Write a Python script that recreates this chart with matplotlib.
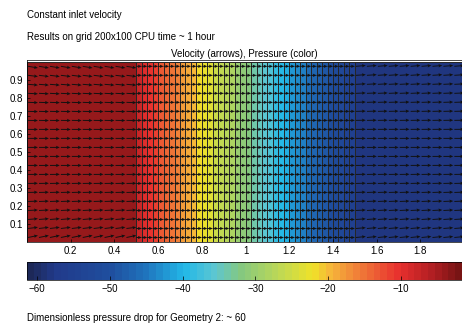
import numpy as np
import matplotlib.pyplot as plt
from matplotlib.colors import LinearSegmentedColormap

plt.rcParams['font.family'] = ['Liberation Sans', 'DejaVu Sans']
plt.rcParams['font.size'] = 7

# pressure per column: inlet block, 40 porous cells (dx = 0.025), outlet block
p_inlet = -4.0
p_porous = [-8.0, -9.2, -10.4, -11.6, -12.9, -14.1, -15.3, -16.5, -17.7, -18.9,
            -20.1, -21.4, -22.6, -23.8, -25.0, -26.2, -27.4, -28.6, -29.8, -31.1,
            -32.3, -33.5, -34.7, -35.9, -37.1, -38.3, -39.5, -40.8, -42.0, -43.2,
            -44.4, -45.6, -46.8, -48.0, -49.2, -50.5, -51.7, -52.9, -54.1, -55.3]
p_outlet = -58.0
p_min, p_max = -61.4, -1.6

# vertical velocity per row (20 rows, bottom to top) in the open channels
v_inlet = [0.25, 0.15, 0.10, 0.06, 0.04, 0.03, 0.02, 0.01, 0.0, 0.0,
           0.0, 0.0, -0.01, -0.02, -0.03, -0.04, -0.06, -0.10, -0.15, -0.20]
v_outlet = [0.12, 0.10, 0.08, 0.06, 0.05, 0.04, 0.03, 0.02, 0.01, 0.0,
            0.0, 0.0, 0.01, 0.02, 0.03, 0.04, 0.05, 0.06, 0.08, 0.10]

xticks = [0.2, 0.4, 0.6, 0.8, 1, 1.2, 1.4, 1.6, 1.8]
yticks = [0.1, 0.2, 0.3, 0.4, 0.5, 0.6, 0.7, 0.8, 0.9]
cticks = [-60, -50, -40, -30, -20, -10]

cmap = LinearSegmentedColormap.from_list('press', [
    (0.00, '#1d2858'), (0.06, '#213a8a'), (0.19, '#1f4f9f'),
    (0.27, '#1f74bd'), (0.36, '#22b8e8'), (0.43, '#5cc6d2'),
    (0.49, '#84c880'), (0.58, '#bcd856'), (0.66, '#f0e228'),
    (0.70, '#f6b63a'), (0.77, '#f07a38'), (0.86, '#e8302e'),
    (0.94, '#b01e22'), (1.00, '#781414')], N=64)

fig = plt.figure(figsize=(4.62, 3.24), dpi=100)
ax = fig.add_axes([27 / 462, 1 - 242 / 324, 435 / 462, 182 / 324])

xe = np.concatenate([[0.0], 0.5 + 0.025 * np.arange(41), [2.0]])
ye = np.array([0.0, 1.0])
P = np.array([[p_inlet] + p_porous + [p_outlet]])
mesh = ax.pcolormesh(xe, ye, P, cmap=cmap, vmin=p_min, vmax=p_max,
                     edgecolors='#262626', linewidth=0.5)

# arrows: coarse grid in channels, cell grid in porous block
yr = 0.025 + 0.05 * np.arange(20)
qkw = dict(angles='xy', scale_units='xy', color='#111111', width=0.0022,
           headwidth=3.5, headlength=4, headaxislength=3.5, pivot='tail')

xl = 0.005 + 0.05 * np.arange(10)
X, Y = np.meshgrid(xl, yr)
V = np.repeat(np.array(v_inlet)[:, None], len(xl), axis=1)
ax.quiver(X, Y, np.ones_like(X), V, scale=1 / 0.045, **qkw)

xm = 0.5 + 0.025 * np.arange(40)
X, Y = np.meshgrid(xm, yr)
ax.quiver(X, Y, np.ones_like(X), np.zeros_like(X), scale=1 / 0.025, **qkw)

xr = 1.505 + 0.05 * np.arange(10)
X, Y = np.meshgrid(xr, yr)
V = np.repeat(np.array(v_outlet)[:, None], len(xr), axis=1)
ax.quiver(X, Y, np.ones_like(X), V, scale=1 / 0.045, **qkw)

ax.set_xlim(0, 1.99)
ax.set_ylim(0, 1.01)
ax.set_xticks(xticks)
ax.set_xticklabels([f'{t:g}' for t in xticks])
ax.set_yticks(yticks)
ax.tick_params(direction='in', length=2, width=0.5, pad=3)
for s in ax.spines.values():
    s.set_linewidth(0.5)
ax.set_title('Velocity (arrows), Pressure (color)', fontsize=7, pad=2)

cax = fig.add_axes([27 / 462, 1 - 280 / 324, 435 / 462, 18 / 324])
cb = fig.colorbar(mesh, cax=cax, orientation='horizontal', ticks=cticks)
cb.ax.set_xticklabels(['\u221260', '\u221250', '\u221240', '\u221230', '\u221220', '\u221210'])
cb.ax.tick_params(direction='in', length=3, width=0.5, pad=3)
cb.outline.set_linewidth(0.5)

fig.text(27 / 462, 1 - 15 / 324, 'Constant inlet velocity', va='center')
fig.text(27 / 462, 1 - 37 / 324, 'Results on grid 200x100 CPU time ~ 1 hour', va='center')
fig.text(27 / 462, 1 - 318 / 324, 'Dimensionless pressure drop for Geometry 2: ~ 60', va='center')

fig.savefig('out.png', dpi=100)
